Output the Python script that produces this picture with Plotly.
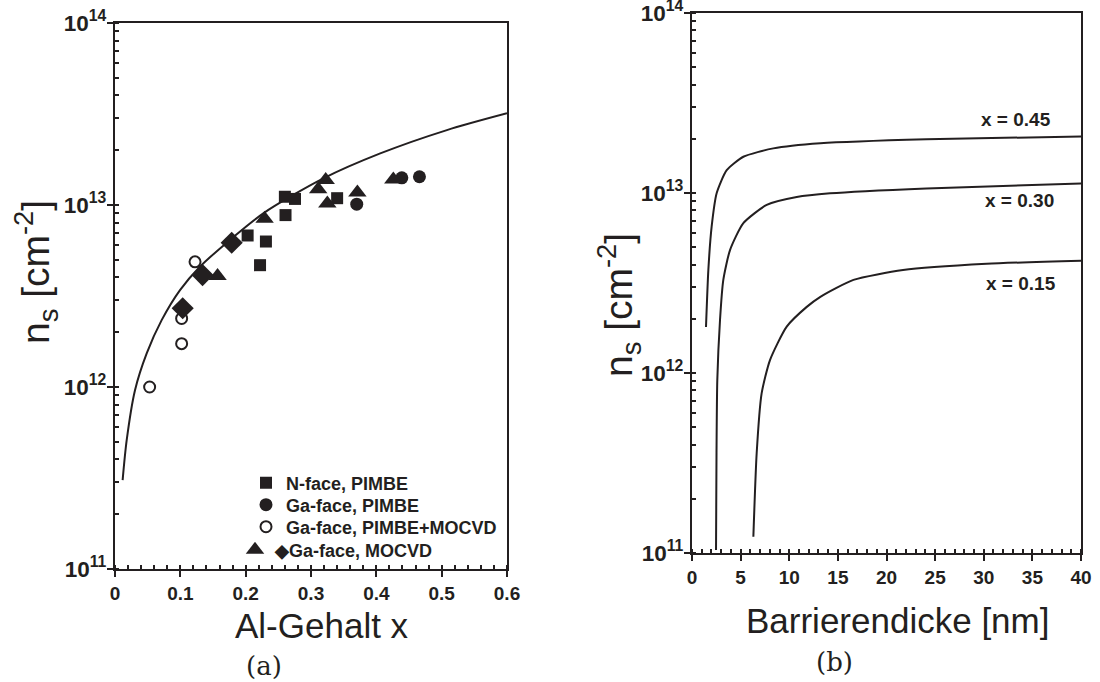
import plotly.graph_objects as go

# ---------------- data: panel (a) ----------------
nface_x = [0.203, 0.231, 0.222, 0.260, 0.2755, 0.261, 0.340]
nface_n = [6.8e12, 6.3e12, 4.67e12, 1.11e13, 1.08e13, 8.8e12, 1.09e13]

gaface_x = [0.370, 0.439, 0.466]
gaface_n = [1.01e13, 1.41e13, 1.43e13]

mixed_x = [0.053, 0.102, 0.102, 0.1225]
mixed_n = [1.0e12, 1.73e12, 2.38e12, 4.87e12]

moc_tri_x = [0.157, 0.229, 0.311, 0.3225, 0.325, 0.371, 0.426]
moc_tri_n = [4.07e12, 8.4e12, 1.22e13, 1.37e13, 1.02e13, 1.17e13, 1.38e13]

moc_dia_x = [0.1036, 0.134, 0.1786]
moc_dia_n = [2.71e12, 4.12e12, 6.2e12]

fit_x = [0.0117, 0.0179, 0.0306, 0.0485, 0.0714, 0.0995, 0.130, 0.176, 0.227, 0.319, 0.406, 0.508, 0.600]
fit_n = [3.08e11, 5.1e11, 9.6e11, 1.53e12, 2.33e12, 3.41e12, 4.58e12, 6.43e12, 9.0e12, 1.40e13, 1.92e13, 2.58e13, 3.19e13]

# ---------------- data: panel (b) ----------------
d045 = [1.44, 1.68, 2.02, 2.54, 3.57, 5.28, 8.36, 13.2, 24.1, 40]
n045 = [1.8e12, 3.73e12, 6.5e12, 1.0e13, 1.34e13, 1.59e13, 1.77e13, 1.89e13, 1.99e13, 2.06e13]

d030 = [2.47, 2.52, 2.6, 2.88, 3.22, 3.91, 5.28, 7.68, 10.77, 14.2, 24.1, 40]
n030 = [1.04e11, 3.6e11, 9.1e11, 1.97e12, 3.29e12, 4.82e12, 6.8e12, 8.58e12, 9.5e12, 9.96e12, 1.06e13, 1.13e13]

d015 = [6.31, 6.65, 7.16, 8.02, 9.74, 11.8, 13.2, 16.6, 21.7, 30.3, 40]
n015 = [1.23e11, 3.58e11, 7.7e11, 1.18e12, 1.81e12, 2.33e12, 2.65e12, 3.29e12, 3.73e12, 4.04e12, 4.21e12]

curve_labels = ["x = 0.45", "x = 0.30", "x = 0.15"]
label_d = [33.3, 33.7, 33.8]
label_logn = [13.406, 12.961, 12.50]

legend_names = ["N-face, PIMBE", "Ga-face, PIMBE", "Ga-face, PIMBE+MOCVD", "\u25c6Ga-face, MOCVD"]

INK = "#231f20"
FONT = "Liberation Sans, Arial, sans-serif"

W, H = 1100, 682
def px(x):
    return x / W
def py(y):
    return 1 - y / H

fig = go.Figure()

# panel (a)
fig.add_trace(go.Scatter(x=fit_x, y=fit_n, mode="lines", line=dict(color=INK, width=2, shape="spline", smoothing=0.8),
                         showlegend=False, xaxis="x", yaxis="y"))
fig.add_trace(go.Scatter(x=nface_x, y=nface_n, mode="markers", name=legend_names[0],
                         marker=dict(symbol="square", size=12, color=INK), xaxis="x", yaxis="y", legend="legend"))
fig.add_trace(go.Scatter(x=gaface_x, y=gaface_n, mode="markers", name=legend_names[1],
                         marker=dict(symbol="circle", size=13, color=INK), xaxis="x", yaxis="y", legend="legend2"))
fig.add_trace(go.Scatter(x=mixed_x, y=mixed_n, mode="markers", name=legend_names[2],
                         marker=dict(symbol="circle-open", size=11, color=INK, line=dict(width=2)),
                         xaxis="x", yaxis="y", legend="legend3"))
fig.add_trace(go.Scatter(x=moc_tri_x, y=moc_tri_n, mode="markers", name=legend_names[3],
                         marker=dict(symbol="triangle-up", size=16, color=INK), xaxis="x", yaxis="y", legend="legend4"))
fig.add_trace(go.Scatter(x=moc_dia_x, y=moc_dia_n, mode="markers", showlegend=False,
                         marker=dict(symbol="diamond", size=17, color=INK), xaxis="x", yaxis="y"))

# panel (b)
for dd, nn in [(d045, n045), (d030, n030), (d015, n015)]:
    fig.add_trace(go.Scatter(x=dd, y=nn, mode="lines", line=dict(color=INK, width=2, shape="spline", smoothing=0.6),
                             showlegend=False, xaxis="x2", yaxis="y2"))

common = dict(showline=True, linewidth=2, linecolor=INK, mirror=True, showgrid=False, zeroline=False,
              automargin=False, ticklabeloverflow="allow", ticks="outside", ticklen=6, tickwidth=2, tickcolor=INK,
              tickfont=dict(family=FONT, size=19, color=INK, weight="bold"))
ycommon = dict(common)
ycommon["tickfont"] = dict(family=FONT, size=18, color=INK, weight="bold")
ycommon["ticklabelstandoff"] = -3

legfont = dict(family=FONT, size=18, color=INK, weight="bold")
def leg(xp, yp):
    return dict(x=px(xp), y=py(yp), xanchor="left", yanchor="middle", bgcolor="rgba(0,0,0,0)",
                font=legfont, itemsizing="trace", borderwidth=0)

fig.update_layout(
    width=W, height=H, margin=dict(l=0, r=0, t=0, b=0, autoexpand=False),
    paper_bgcolor="white", plot_bgcolor="white",
    xaxis=dict(domain=[px(115), px(507)], range=[0, 0.6], dtick=0.1, tick0=0, anchor="y",
               minor=dict(ticks="inside", ticklen=4, tickwidth=1.5, tickcolor=INK, dtick=0.02), **common),
    yaxis=dict(domain=[py(569), py(23)], type="log", range=[11, 14], dtick=1, exponentformat="power", anchor="x",
               minor=dict(ticks="inside", ticklen=4, tickwidth=1.5, tickcolor=INK, dtick="D1"), **ycommon),
    xaxis2=dict(domain=[px(692), px(1081)], range=[0, 40], dtick=5, tick0=0, anchor="y2",
                minor=dict(ticks="inside", ticklen=4, tickwidth=1.5, tickcolor=INK, dtick=1), **common),
    yaxis2=dict(domain=[py(553), py(13)], type="log", range=[11, 14], dtick=1, exponentformat="power", anchor="x2",
                minor=dict(ticks="inside", ticklen=4, tickwidth=1.5, tickcolor=INK, dtick="D1"), **ycommon),
    legend=leg(246, 483),
    legend2=leg(246, 505),
    legend3=leg(246, 527),
    legend4=leg(235, 550),
)

annots = []
def paper_text(text, xp, yp, size, angle=0, family=FONT):
    return dict(text=text, x=px(xp), y=py(yp), xref="paper", yref="paper", showarrow=False,
                xanchor="center", yanchor="middle", textangle=angle,
                font=dict(family=family, size=size, color=INK))

# axis titles
annots.append(paper_text("Al-Gehalt x", 322, 625, 35))
annots.append(paper_text("Barrierendicke [nm]", 897, 620, 35))
annots.append(paper_text("n<sub>s</sub> [cm<sup>-2</sup>]", 36, 272, 39, angle=-90))
annots.append(paper_text("n<sub>s</sub> [cm<sup>-2</sup>]", 619, 305, 39, angle=-90))
# panel captions
annots.append(paper_text("(a)", 264, 666, 26, family="DejaVu Serif, Liberation Serif, serif"))
annots.append(paper_text("(b)", 835, 662, 26, family="DejaVu Serif, Liberation Serif, serif"))
# curve labels
for t, xd, yl in zip(curve_labels, label_d, label_logn):
    annots.append(dict(text=t, x=xd, y=yl, xref="x2", yref="y2", showarrow=False,
                       xanchor="center", yanchor="middle",
                       font=dict(family=FONT, size=19, color=INK, weight="bold")))
fig.update_layout(annotations=annots)

fig.write_html("out.html", config={"displayModeBar": False},
               post_script="document.body.style.margin='0';document.body.style.padding='0';")
